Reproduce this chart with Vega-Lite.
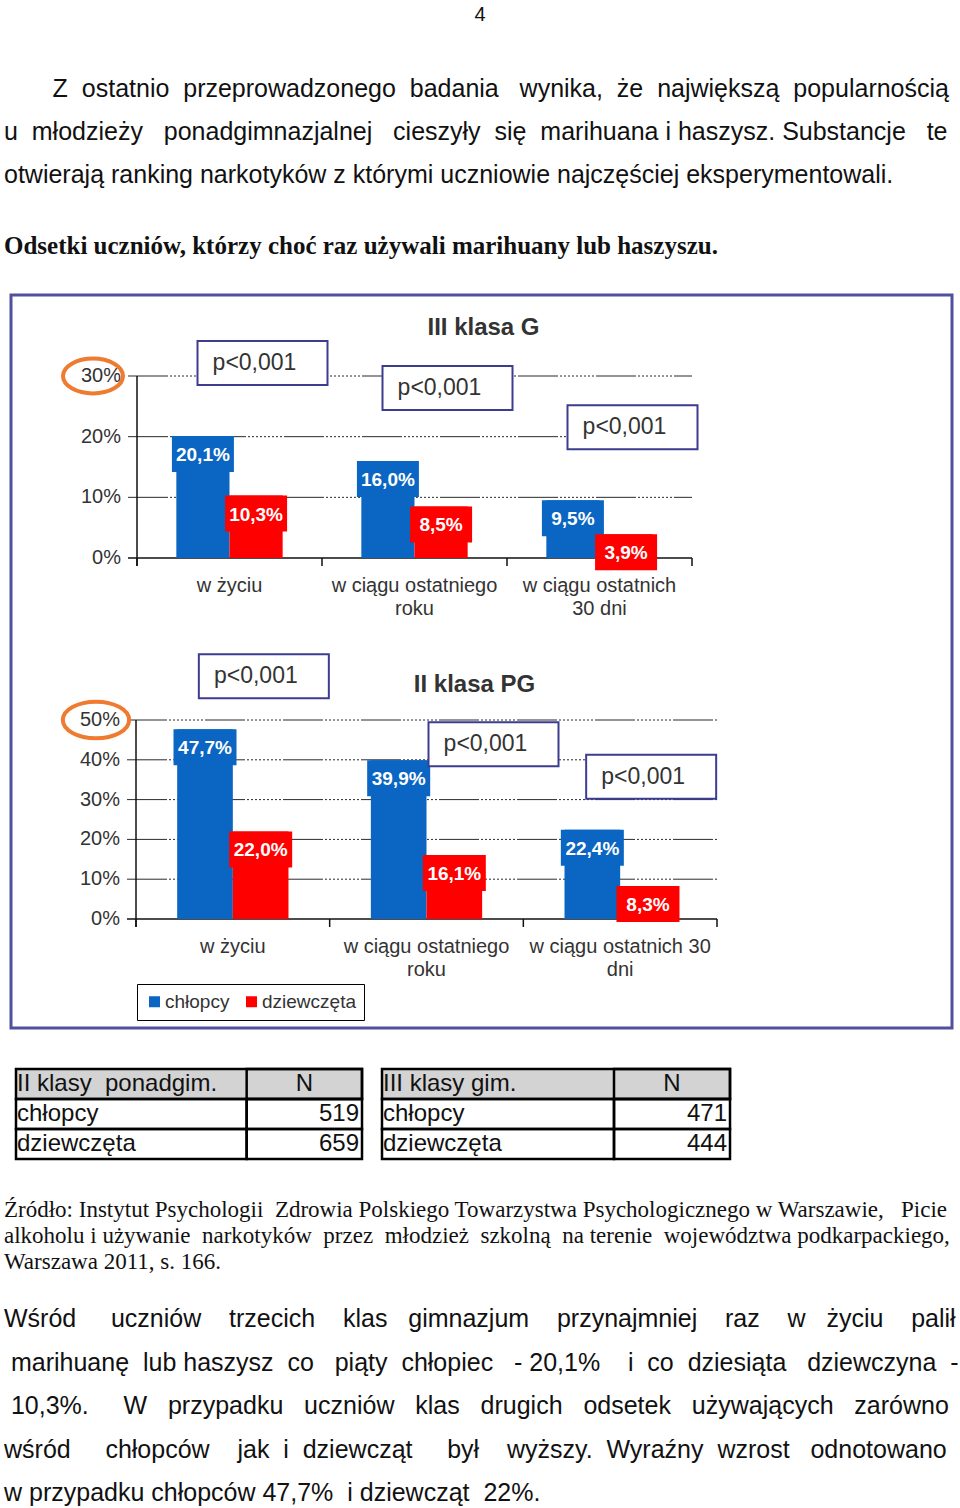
{
  "$schema": "https://vega.github.io/schema/vega-lite/v6.json",
  "width": 960,
  "height": 1508,
  "autosize": {"type": "fit", "contains": "padding"},
  "padding": 0,
  "background": "white",
  "config": {
    "view": {"stroke": null},
    "font": "Liberation Sans",
    "locale": {"number": {"decimal": ",", "thousands": "\u00a0", "grouping": [3], "currency": ["", " zł"]}}
  },
  "datasets": {
    "slupki": [
      {"klasa": "III klasa G", "okres": "w życiu", "plec": "chłopcy", "odsetek": 0.201, "p": "p<0,001"},
      {"klasa": "III klasa G", "okres": "w życiu", "plec": "dziewczęta", "odsetek": 0.103, "p": "p<0,001"},
      {"klasa": "III klasa G", "okres": "w ciągu ostatniego roku", "plec": "chłopcy", "odsetek": 0.16, "p": "p<0,001"},
      {"klasa": "III klasa G", "okres": "w ciągu ostatniego roku", "plec": "dziewczęta", "odsetek": 0.085, "p": "p<0,001"},
      {"klasa": "III klasa G", "okres": "w ciągu ostatnich 30 dni", "plec": "chłopcy", "odsetek": 0.095, "p": "p<0,001"},
      {"klasa": "III klasa G", "okres": "w ciągu ostatnich 30 dni", "plec": "dziewczęta", "odsetek": 0.039, "p": "p<0,001"},
      {"klasa": "II klasa PG", "okres": "w życiu", "plec": "chłopcy", "odsetek": 0.477, "p": "p<0,001"},
      {"klasa": "II klasa PG", "okres": "w życiu", "plec": "dziewczęta", "odsetek": 0.22, "p": "p<0,001"},
      {"klasa": "II klasa PG", "okres": "w ciągu ostatniego roku", "plec": "chłopcy", "odsetek": 0.399, "p": "p<0,001"},
      {"klasa": "II klasa PG", "okres": "w ciągu ostatniego roku", "plec": "dziewczęta", "odsetek": 0.161, "p": "p<0,001"},
      {"klasa": "II klasa PG", "okres": "w ciągu ostatnich 30 dni", "plec": "chłopcy", "odsetek": 0.224, "p": "p<0,001"},
      {"klasa": "II klasa PG", "okres": "w ciągu ostatnich 30 dni", "plec": "dziewczęta", "odsetek": 0.083, "p": "p<0,001"}
    ],
    "kategorie": [
      {"klasa": "III klasa G", "okres": "w życiu", "etykieta": "w życiu"},
      {"klasa": "III klasa G", "okres": "w ciągu ostatniego roku", "etykieta": "w ciągu ostatniego\nroku"},
      {"klasa": "III klasa G", "okres": "w ciągu ostatnich 30 dni", "etykieta": "w ciągu ostatnich\n30 dni"},
      {"klasa": "II klasa PG", "okres": "w życiu", "etykieta": "w życiu"},
      {"klasa": "II klasa PG", "okres": "w ciągu ostatniego roku", "etykieta": "w ciągu ostatniego\nroku"},
      {"klasa": "II klasa PG", "okres": "w ciągu ostatnich 30 dni", "etykieta": "w ciągu ostatnich 30\ndni"}
    ],
    "skala": [
      {"klasa": "III klasa G", "t": 0},
      {"klasa": "III klasa G", "t": 0.1},
      {"klasa": "III klasa G", "t": 0.2},
      {"klasa": "III klasa G", "t": 0.3},
      {"klasa": "II klasa PG", "t": 0},
      {"klasa": "II klasa PG", "t": 0.1},
      {"klasa": "II klasa PG", "t": 0.2},
      {"klasa": "II klasa PG", "t": 0.3},
      {"klasa": "II klasa PG", "t": 0.4},
      {"klasa": "II klasa PG", "t": 0.5}
    ],
    "tabele": [
      {"tabela": "II klasy\u00a0 ponadgim.", "grupa": "chłopcy", "N": 519},
      {"tabela": "II klasy\u00a0 ponadgim.", "grupa": "dziewczęta", "N": 659},
      {"tabela": "III klasy gim.", "grupa": "chłopcy", "N": 471},
      {"tabela": "III klasy gim.", "grupa": "dziewczęta", "N": 444}
    ],
    "tekst": [
      {"blok": "strona", "nr": 1, "tekst": "4"},
      {"blok": "wstep", "nr": 1, "tekst": "\u200b\u00a0\u00a0\u00a0\u00a0\u00a0\u00a0\u00a0Z\u00a0 ostatnio\u00a0 przeprowadzonego\u00a0 badania\u00a0\u00a0 wynika,\u00a0 że\u00a0 największą\u00a0 popularnością"},
      {"blok": "wstep", "nr": 2, "tekst": "u\u00a0 młodzieży\u00a0\u00a0 ponadgimnazjalnej\u00a0\u00a0 cieszyły\u00a0 się\u00a0 marihuana i haszysz. Substancje\u00a0\u00a0 te"},
      {"blok": "wstep", "nr": 3, "tekst": "otwierają ranking narkotyków z którymi uczniowie najczęściej eksperymentowali."},
      {"blok": "naglowek", "nr": 1, "tekst": "Odsetki uczniów, którzy choć raz używali marihuany lub haszyszu."},
      {"blok": "zrodlo", "nr": 1, "tekst": "Źródło: Instytut Psychologii\u00a0 Zdrowia Polskiego Towarzystwa Psychologicznego w Warszawie,\u00a0\u00a0 Picie"},
      {"blok": "zrodlo", "nr": 2, "tekst": "alkoholu i używanie\u00a0 narkotyków\u00a0 przez\u00a0 młodzież\u00a0 szkolną\u00a0 na terenie\u00a0 województwa podkarpackiego,"},
      {"blok": "zrodlo", "nr": 3, "tekst": "Warszawa 2011, s. 166."},
      {"blok": "wniosek", "nr": 1, "tekst": "Wśród\u00a0\u00a0\u00a0\u00a0 uczniów\u00a0\u00a0\u00a0 trzecich\u00a0\u00a0\u00a0 klas\u00a0\u00a0 gimnazjum\u00a0\u00a0\u00a0 przynajmniej\u00a0\u00a0\u00a0 raz\u00a0\u00a0\u00a0 w\u00a0\u00a0 życiu\u00a0\u00a0\u00a0 palił"},
      {"blok": "wniosek", "nr": 2, "tekst": "\u200b\u00a0marihuanę\u00a0 lub haszysz\u00a0 co\u00a0\u00a0 piąty\u00a0 chłopiec\u00a0\u00a0 - 20,1%\u00a0\u00a0\u00a0 i\u00a0 co\u00a0 dziesiąta\u00a0\u00a0 dziewczyna\u00a0 -"},
      {"blok": "wniosek", "nr": 3, "tekst": "\u200b\u00a010,3%.\u00a0\u00a0\u00a0\u00a0 W\u00a0\u00a0 przypadku\u00a0\u00a0 uczniów\u00a0\u00a0 klas\u00a0\u00a0 drugich\u00a0\u00a0 odsetek\u00a0\u00a0 używających\u00a0\u00a0 zarówno"},
      {"blok": "wniosek", "nr": 4, "tekst": "wśród\u00a0\u00a0\u00a0\u00a0 chłopców\u00a0\u00a0\u00a0 jak\u00a0 i\u00a0 dziewcząt\u00a0\u00a0\u00a0\u00a0 był\u00a0\u00a0\u00a0 wyższy.\u00a0 Wyraźny\u00a0 wzrost\u00a0\u00a0 odnotowano"},
      {"blok": "wniosek", "nr": 5, "tekst": "w przypadku chłopców 47,7%\u00a0 i dziewcząt\u00a0 22%."}
    ]
  },
  "resolve": {"scale": {"x": "independent", "y": "independent", "xOffset": "independent"}},
  "layer": [
    {
      "data": {"name": "skala"},
      "transform": [{"filter": "datum.klasa == 'III klasa G' && datum.t == 0"}],
      "mark": {"type": "rect", "fillOpacity": 0, "stroke": "#50509e", "strokeWidth": 3},
      "encoding": {
        "x": {"datum": 0, "type": "quantitative", "axis": null, "scale": {"domain": [0, 1], "range": [11, 952], "zero": false, "nice": false}},
        "x2": {"datum": 1},
        "y": {"datum": 0, "type": "quantitative", "axis": null, "scale": {"domain": [0, 1], "range": [295, 1028], "zero": false, "nice": false}},
        "y2": {"datum": 1}
      }
    },
    {
      "layer": [
        {
          "data": {"name": "skala"},
          "transform": [{"filter": "datum.klasa == 'III klasa G' && datum.t > 0"}],
          "mark": {"type": "rule", "color": "#2a2a2a", "strokeWidth": 1, "strokeDash": [40, 2, 2, 2, 2, 2, 2, 2, 2, 2, 2, 2, 2, 2, 2, 2, 2, 2, 2, 2], "xOffset": -9},
          "encoding": {
            "x": {"datum": "w życiu", "type": "nominal", "bandPosition": 0, "axis": null,
              "scale": {"type": "band", "domain": ["w życiu", "w ciągu ostatniego roku", "w ciągu ostatnich 30 dni"], "range": [137, 692], "paddingInner": 0, "paddingOuter": 0}},
            "x2": {"datum": "w ciągu ostatnich 30 dni", "bandPosition": 1},
            "y": {"field": "t", "type": "quantitative", "axis": null, "scale": {"domain": [0, 0.3], "range": [558, 376], "nice": false, "zero": false}}
          }
        },
        {
          "data": {"name": "skala"},
          "transform": [{"filter": "datum.klasa == 'III klasa G' && datum.t == 0"}],
          "mark": {"type": "rule", "color": "#111111", "strokeWidth": 1.5, "xOffset": -9},
          "encoding": {
            "x": {"datum": "w życiu", "type": "nominal", "bandPosition": 0},
            "x2": {"datum": "w ciągu ostatnich 30 dni", "bandPosition": 1},
            "y": {"field": "t", "type": "quantitative"}
          }
        },
        {
          "data": {"name": "skala"},
          "transform": [{"filter": "datum.klasa == 'III klasa G' && datum.t == 0.3"}],
          "mark": {"type": "rule", "color": "#111111", "strokeWidth": 1.5, "y2Offset": 8},
          "encoding": {
            "x": {"datum": "w życiu", "type": "nominal", "bandPosition": 0},
            "y": {"field": "t", "type": "quantitative"},
            "y2": {"datum": 0}
          }
        },
        {
          "data": {"name": "kategorie"},
          "transform": [{"filter": "datum.klasa == 'III klasa G'"}],
          "mark": {"type": "rule", "color": "#111111", "strokeWidth": 1.5, "y2Offset": 8},
          "encoding": {
            "x": {"field": "okres", "type": "nominal", "bandPosition": 0},
            "y": {"datum": 0, "type": "quantitative"},
            "y2": {"datum": 0}
          }
        },
        {
          "data": {"name": "kategorie"},
          "transform": [{"filter": "datum.klasa == 'III klasa G' && datum.okres == 'w ciągu ostatnich 30 dni'"}],
          "mark": {"type": "rule", "color": "#111111", "strokeWidth": 1.5, "y2Offset": 8},
          "encoding": {
            "x": {"field": "okres", "type": "nominal", "bandPosition": 1},
            "y": {"datum": 0, "type": "quantitative"},
            "y2": {"datum": 0}
          }
        },
        {
          "data": {"name": "skala"},
          "transform": [{"filter": "datum.klasa == 'III klasa G'"}],
          "mark": {"type": "text", "align": "right", "baseline": "middle", "fontSize": 20, "color": "#333333", "xOffset": -16},
          "encoding": {
            "x": {"datum": "w życiu", "type": "nominal", "bandPosition": 0},
            "y": {"field": "t", "type": "quantitative"},
            "text": {"field": "t", "type": "quantitative", "format": ".0%"}
          }
        },
        {
          "data": {"name": "skala"},
          "transform": [{"filter": "datum.klasa == 'III klasa G' && datum.t == 0.3"}],
          "mark": {"type": "point", "shape": "M -1 0 A 1 0.58 0 1 0 1 0 A 1 0.58 0 1 0 -1 0 Z", "size": 3600, "filled": false, "color": "#ee7b30", "strokeWidth": 4, "opacity": 1, "xOffset": -44},
          "encoding": {
            "x": {"datum": "w życiu", "type": "nominal", "bandPosition": 0},
            "y": {"field": "t", "type": "quantitative"}
          }
        },
        {
          "data": {"name": "slupki"},
          "transform": [{"filter": "datum.klasa == 'III klasa G'"}],
          "mark": {"type": "bar"},
          "encoding": {
            "x": {"field": "okres", "type": "nominal"},
            "xOffset": {"field": "plec", "type": "nominal", "scale": {"domain": ["chłopcy", "dziewczęta"], "paddingInner": 0, "paddingOuter": 0.74}},
            "y": {"field": "odsetek", "type": "quantitative"},
            "color": {"field": "plec", "type": "nominal",
              "scale": {"domain": ["chłopcy", "dziewczęta"], "range": ["#0a66c2", "#ff0000"]},
              "legend": {"orient": "none", "legendX": 137, "legendY": 984, "direction": "horizontal", "title": null,
                "fillColor": "white", "strokeColor": "black", "padding": 8, "symbolType": "square", "symbolSize": 121,
                "symbolStrokeWidth": 0, "symbolOpacity": 1, "labelFont": "Liberation Sans", "labelFontSize": 19, "labelColor": "#333333",
                "columnPadding": 12, "labelOffset": 1}}
          }
        },
        {
          "data": {"name": "slupki"},
          "transform": [{"filter": "datum.klasa == 'III klasa G'"}],
          "mark": {"type": "bar", "width": 62, "y2Offset": 36},
          "encoding": {
            "x": {"field": "okres", "type": "nominal"},
            "xOffset": {"field": "plec", "type": "nominal"},
            "y": {"field": "odsetek", "type": "quantitative"},
            "y2": {"field": "odsetek"},
            "color": {"field": "plec", "type": "nominal"}
          }
        },
        {
          "data": {"name": "slupki"},
          "transform": [{"filter": "datum.klasa == 'III klasa G'"}],
          "mark": {"type": "text", "color": "white", "fontWeight": "bold", "fontSize": 19, "baseline": "middle", "yOffset": 19},
          "encoding": {
            "x": {"field": "okres", "type": "nominal"},
            "xOffset": {"field": "plec", "type": "nominal"},
            "y": {"field": "odsetek", "type": "quantitative"},
            "text": {"field": "odsetek", "type": "quantitative", "format": ".1%"}
          }
        },
        {
          "data": {"name": "slupki"},
          "transform": [{"filter": "datum.klasa == 'III klasa G' && datum.plec == 'chłopcy'"}],
          "mark": {"type": "bar", "width": 130, "xOffset": 33, "yOffset": -95, "y2Offset": -51, "fill": "white", "stroke": "#3d3d8f", "strokeWidth": 2},
          "encoding": {
            "x": {"field": "okres", "type": "nominal"},
            "y": {"field": "odsetek", "type": "quantitative"},
            "y2": {"field": "odsetek"}
          }
        },
        {
          "data": {"name": "slupki"},
          "transform": [{"filter": "datum.klasa == 'III klasa G' && datum.plec == 'chłopcy'"}],
          "mark": {"type": "text", "fontSize": 23, "color": "#333333", "baseline": "middle", "xOffset": 25, "yOffset": -73},
          "encoding": {
            "x": {"field": "okres", "type": "nominal"},
            "y": {"field": "odsetek", "type": "quantitative"},
            "text": {"field": "p"}
          }
        },
        {
          "data": {"name": "slupki"},
          "transform": [{"filter": "datum.klasa == 'III klasa G' && datum.plec == 'chłopcy' && datum.okres == 'w ciągu ostatniego roku'"}],
          "mark": {"type": "text", "fontSize": 24, "fontWeight": "bold", "color": "#333333", "baseline": "middle", "xOffset": 69, "yOffset": -48},
          "encoding": {
            "x": {"field": "okres", "type": "nominal"},
            "y": {"datum": 0.3, "type": "quantitative"},
            "text": {"field": "klasa"}
          }
        },
        {
          "data": {"name": "kategorie"},
          "transform": [{"filter": "datum.klasa == 'III klasa G'"}],
          "mark": {"type": "text", "fontSize": 20, "color": "#333333", "baseline": "top", "lineBreak": "\n", "lineHeight": 23, "yOffset": 18},
          "encoding": {
            "x": {"field": "okres", "type": "nominal"},
            "y": {"datum": 0, "type": "quantitative"},
            "text": {"field": "etykieta"}
          }
        }
      ]
    },
    {
      "layer": [
        {
          "data": {"name": "skala"},
          "transform": [{"filter": "datum.klasa == 'II klasa PG' && datum.t > 0"}],
          "mark": {"type": "rule", "color": "#2a2a2a", "strokeWidth": 1, "strokeDash": [40, 2, 2, 2, 2, 2, 2, 2, 2, 2, 2, 2, 2, 2, 2, 2, 2, 2, 2, 2], "xOffset": -9},
          "encoding": {
            "x": {"datum": "w życiu", "type": "nominal", "bandPosition": 0, "axis": null,
              "scale": {"type": "band", "domain": ["w życiu", "w ciągu ostatniego roku", "w ciągu ostatnich 30 dni"], "range": [136, 717], "paddingInner": 0, "paddingOuter": 0}},
            "x2": {"datum": "w ciągu ostatnich 30 dni", "bandPosition": 1},
            "y": {"field": "t", "type": "quantitative", "axis": null, "scale": {"domain": [0, 0.5], "range": [919, 720], "nice": false, "zero": false}}
          }
        },
        {
          "data": {"name": "skala"},
          "transform": [{"filter": "datum.klasa == 'II klasa PG' && datum.t == 0"}],
          "mark": {"type": "rule", "color": "#111111", "strokeWidth": 1.5, "xOffset": -9},
          "encoding": {
            "x": {"datum": "w życiu", "type": "nominal", "bandPosition": 0},
            "x2": {"datum": "w ciągu ostatnich 30 dni", "bandPosition": 1},
            "y": {"field": "t", "type": "quantitative"}
          }
        },
        {
          "data": {"name": "skala"},
          "transform": [{"filter": "datum.klasa == 'II klasa PG' && datum.t == 0.5"}],
          "mark": {"type": "rule", "color": "#111111", "strokeWidth": 1.5, "y2Offset": 8},
          "encoding": {
            "x": {"datum": "w życiu", "type": "nominal", "bandPosition": 0},
            "y": {"field": "t", "type": "quantitative"},
            "y2": {"datum": 0}
          }
        },
        {
          "data": {"name": "kategorie"},
          "transform": [{"filter": "datum.klasa == 'II klasa PG'"}],
          "mark": {"type": "rule", "color": "#111111", "strokeWidth": 1.5, "y2Offset": 8},
          "encoding": {
            "x": {"field": "okres", "type": "nominal", "bandPosition": 0},
            "y": {"datum": 0, "type": "quantitative"},
            "y2": {"datum": 0}
          }
        },
        {
          "data": {"name": "kategorie"},
          "transform": [{"filter": "datum.klasa == 'II klasa PG' && datum.okres == 'w ciągu ostatnich 30 dni'"}],
          "mark": {"type": "rule", "color": "#111111", "strokeWidth": 1.5, "y2Offset": 8},
          "encoding": {
            "x": {"field": "okres", "type": "nominal", "bandPosition": 1},
            "y": {"datum": 0, "type": "quantitative"},
            "y2": {"datum": 0}
          }
        },
        {
          "data": {"name": "skala"},
          "transform": [{"filter": "datum.klasa == 'II klasa PG'"}],
          "mark": {"type": "text", "align": "right", "baseline": "middle", "fontSize": 20, "color": "#333333", "xOffset": -16},
          "encoding": {
            "x": {"datum": "w życiu", "type": "nominal", "bandPosition": 0},
            "y": {"field": "t", "type": "quantitative"},
            "text": {"field": "t", "type": "quantitative", "format": ".0%"}
          }
        },
        {
          "data": {"name": "skala"},
          "transform": [{"filter": "datum.klasa == 'II klasa PG' && datum.t == 0.5"}],
          "mark": {"type": "point", "shape": "M -1 0 A 1 0.55 0 1 0 1 0 A 1 0.55 0 1 0 -1 0 Z", "size": 4400, "filled": false, "color": "#ee7b30", "strokeWidth": 4, "opacity": 1, "xOffset": -40},
          "encoding": {
            "x": {"datum": "w życiu", "type": "nominal", "bandPosition": 0},
            "y": {"field": "t", "type": "quantitative"}
          }
        },
        {
          "data": {"name": "slupki"},
          "transform": [{"filter": "datum.klasa == 'II klasa PG'"}],
          "mark": {"type": "bar"},
          "encoding": {
            "x": {"field": "okres", "type": "nominal"},
            "xOffset": {"field": "plec", "type": "nominal", "scale": {"domain": ["chłopcy", "dziewczęta"], "paddingInner": 0, "paddingOuter": 0.74}},
            "y": {"field": "odsetek", "type": "quantitative"},
            "color": {"field": "plec", "type": "nominal"}
          }
        },
        {
          "data": {"name": "slupki"},
          "transform": [{"filter": "datum.klasa == 'II klasa PG'"}],
          "mark": {"type": "bar", "width": 63, "y2Offset": 36},
          "encoding": {
            "x": {"field": "okres", "type": "nominal"},
            "xOffset": {"field": "plec", "type": "nominal"},
            "y": {"field": "odsetek", "type": "quantitative"},
            "y2": {"field": "odsetek"},
            "color": {"field": "plec", "type": "nominal"}
          }
        },
        {
          "data": {"name": "slupki"},
          "transform": [{"filter": "datum.klasa == 'II klasa PG'"}],
          "mark": {"type": "text", "color": "white", "fontWeight": "bold", "fontSize": 19, "baseline": "middle", "yOffset": 19},
          "encoding": {
            "x": {"field": "okres", "type": "nominal"},
            "xOffset": {"field": "plec", "type": "nominal"},
            "y": {"field": "odsetek", "type": "quantitative"},
            "text": {"field": "odsetek", "type": "quantitative", "format": ".1%"}
          }
        },
        {
          "data": {"name": "slupki"},
          "transform": [{"filter": "datum.klasa == 'II klasa PG' && datum.plec == 'chłopcy' && datum.okres != 'w ciągu ostatniego roku'"}],
          "mark": {"type": "bar", "width": 130, "xOffset": 31, "yOffset": -75, "y2Offset": -31, "fill": "white", "stroke": "#3d3d8f", "strokeWidth": 2},
          "encoding": {
            "x": {"field": "okres", "type": "nominal"},
            "y": {"field": "odsetek", "type": "quantitative"},
            "y2": {"field": "odsetek"}
          }
        },
        {
          "data": {"name": "slupki"},
          "transform": [{"filter": "datum.klasa == 'II klasa PG' && datum.plec == 'chłopcy' && datum.okres != 'w ciągu ostatniego roku'"}],
          "mark": {"type": "text", "fontSize": 23, "color": "#333333", "baseline": "middle", "xOffset": 23, "yOffset": -53},
          "encoding": {
            "x": {"field": "okres", "type": "nominal"},
            "y": {"field": "odsetek", "type": "quantitative"},
            "text": {"field": "p"}
          }
        },
        {
          "data": {"name": "slupki"},
          "transform": [{"filter": "datum.klasa == 'II klasa PG' && datum.plec == 'chłopcy' && datum.okres == 'w ciągu ostatniego roku'"}],
          "mark": {"type": "bar", "width": 130, "xOffset": 67, "yOffset": -38, "y2Offset": 6, "fill": "white", "stroke": "#3d3d8f", "strokeWidth": 2},
          "encoding": {
            "x": {"field": "okres", "type": "nominal"},
            "y": {"field": "odsetek", "type": "quantitative"},
            "y2": {"field": "odsetek"}
          }
        },
        {
          "data": {"name": "slupki"},
          "transform": [{"filter": "datum.klasa == 'II klasa PG' && datum.plec == 'chłopcy' && datum.okres == 'w ciągu ostatniego roku'"}],
          "mark": {"type": "text", "fontSize": 23, "color": "#333333", "baseline": "middle", "xOffset": 59, "yOffset": -16},
          "encoding": {
            "x": {"field": "okres", "type": "nominal"},
            "y": {"field": "odsetek", "type": "quantitative"},
            "text": {"field": "p"}
          }
        },
        {
          "data": {"name": "slupki"},
          "transform": [{"filter": "datum.klasa == 'II klasa PG' && datum.plec == 'chłopcy' && datum.okres == 'w ciągu ostatniego roku'"}],
          "mark": {"type": "text", "fontSize": 24, "fontWeight": "bold", "color": "#333333", "baseline": "middle", "xOffset": 48, "yOffset": -35},
          "encoding": {
            "x": {"field": "okres", "type": "nominal"},
            "y": {"datum": 0.5, "type": "quantitative"},
            "text": {"field": "klasa"}
          }
        },
        {
          "data": {"name": "kategorie"},
          "transform": [{"filter": "datum.klasa == 'II klasa PG'"}],
          "mark": {"type": "text", "fontSize": 20, "color": "#333333", "baseline": "top", "lineBreak": "\n", "lineHeight": 23, "yOffset": 18},
          "encoding": {
            "x": {"field": "okres", "type": "nominal"},
            "y": {"datum": 0, "type": "quantitative"},
            "text": {"field": "etykieta"}
          }
        }
      ]
    },
    {
      "data": {"name": "tabele"},
      "transform": [{"filter": "datum.tabela != 'III klasy gim.'"}],
      "layer": [
        {
          "transform": [{"filter": "datum.grupa == 'chłopcy'"}],
          "mark": {"type": "rect", "fill": "#d3d3d3", "stroke": "#000000", "strokeWidth": 2.5},
          "encoding": {
            "x": {"datum": 0, "type": "quantitative", "axis": null, "scale": {"domain": [0, 3], "range": [16, 362], "zero": false, "nice": false}},
            "x2": {"datum": 3},
            "y": {"datum": "nagłówek", "type": "nominal", "axis": null, "scale": {"type": "band", "domain": ["nagłówek", "chłopcy", "dziewczęta"], "range": [1069, 1159], "paddingInner": 0, "paddingOuter": 0}}
          }
        },
        {
          "transform": [{"filter": "datum.grupa == 'chłopcy'"}],
          "mark": {"type": "rect", "fillOpacity": 0, "stroke": "#000000", "strokeWidth": 2.5},
          "encoding": {"x": {"datum": 2, "type": "quantitative"}, "x2": {"datum": 3}, "y": {"datum": "nagłówek", "type": "nominal"}}
        },
        {
          "mark": {"type": "rect", "fillOpacity": 0, "stroke": "#000000", "strokeWidth": 2.5},
          "encoding": {"x": {"datum": 0, "type": "quantitative"}, "x2": {"datum": 2}, "y": {"field": "grupa", "type": "nominal"}}
        },
        {
          "mark": {"type": "rect", "fillOpacity": 0, "stroke": "#000000", "strokeWidth": 2.5},
          "encoding": {"x": {"datum": 2, "type": "quantitative"}, "x2": {"datum": 3}, "y": {"field": "grupa", "type": "nominal"}}
        },
        {
          "mark": {"type": "text", "align": "left", "baseline": "middle", "fontSize": 24, "color": "#111111", "xOffset": 1},
          "encoding": {"x": {"datum": 0, "type": "quantitative"}, "y": {"field": "grupa", "type": "nominal"}, "text": {"field": "grupa"}}
        },
        {
          "mark": {"type": "text", "align": "right", "baseline": "middle", "fontSize": 24, "color": "#111111", "xOffset": -3},
          "encoding": {"x": {"datum": 3, "type": "quantitative"}, "y": {"field": "grupa", "type": "nominal"}, "text": {"field": "N", "type": "quantitative", "format": "d"}}
        },
        {
          "transform": [{"filter": "datum.grupa == 'chłopcy'"}],
          "mark": {"type": "text", "align": "left", "baseline": "middle", "fontSize": 24, "color": "#111111", "xOffset": 1},
          "encoding": {"x": {"datum": 0, "type": "quantitative"}, "y": {"datum": "nagłówek", "type": "nominal"}, "text": {"field": "tabela"}}
        },
        {
          "transform": [{"filter": "datum.grupa == 'chłopcy'"}],
          "mark": {"type": "text", "align": "center", "baseline": "middle", "fontSize": 24, "color": "#111111"},
          "encoding": {"x": {"datum": 2.5, "type": "quantitative"}, "y": {"datum": "nagłówek", "type": "nominal"}, "text": {"value": "N"}}
        }
      ]
    },
    {
      "data": {"name": "tabele"},
      "transform": [{"filter": "datum.tabela == 'III klasy gim.'"}],
      "layer": [
        {
          "transform": [{"filter": "datum.grupa == 'chłopcy'"}],
          "mark": {"type": "rect", "fill": "#d3d3d3", "stroke": "#000000", "strokeWidth": 2.5},
          "encoding": {
            "x": {"datum": 0, "type": "quantitative", "axis": null, "scale": {"domain": [0, 3], "range": [382, 730], "zero": false, "nice": false}},
            "x2": {"datum": 3},
            "y": {"datum": "nagłówek", "type": "nominal", "axis": null, "scale": {"type": "band", "domain": ["nagłówek", "chłopcy", "dziewczęta"], "range": [1069, 1159], "paddingInner": 0, "paddingOuter": 0}}
          }
        },
        {
          "transform": [{"filter": "datum.grupa == 'chłopcy'"}],
          "mark": {"type": "rect", "fillOpacity": 0, "stroke": "#000000", "strokeWidth": 2.5},
          "encoding": {"x": {"datum": 2, "type": "quantitative"}, "x2": {"datum": 3}, "y": {"datum": "nagłówek", "type": "nominal"}}
        },
        {
          "mark": {"type": "rect", "fillOpacity": 0, "stroke": "#000000", "strokeWidth": 2.5},
          "encoding": {"x": {"datum": 0, "type": "quantitative"}, "x2": {"datum": 2}, "y": {"field": "grupa", "type": "nominal"}}
        },
        {
          "mark": {"type": "rect", "fillOpacity": 0, "stroke": "#000000", "strokeWidth": 2.5},
          "encoding": {"x": {"datum": 2, "type": "quantitative"}, "x2": {"datum": 3}, "y": {"field": "grupa", "type": "nominal"}}
        },
        {
          "mark": {"type": "text", "align": "left", "baseline": "middle", "fontSize": 24, "color": "#111111", "xOffset": 1},
          "encoding": {"x": {"datum": 0, "type": "quantitative"}, "y": {"field": "grupa", "type": "nominal"}, "text": {"field": "grupa"}}
        },
        {
          "mark": {"type": "text", "align": "right", "baseline": "middle", "fontSize": 24, "color": "#111111", "xOffset": -3},
          "encoding": {"x": {"datum": 3, "type": "quantitative"}, "y": {"field": "grupa", "type": "nominal"}, "text": {"field": "N", "type": "quantitative", "format": "d"}}
        },
        {
          "transform": [{"filter": "datum.grupa == 'chłopcy'"}],
          "mark": {"type": "text", "align": "left", "baseline": "middle", "fontSize": 24, "color": "#111111", "xOffset": 1},
          "encoding": {"x": {"datum": 0, "type": "quantitative"}, "y": {"datum": "nagłówek", "type": "nominal"}, "text": {"field": "tabela"}}
        },
        {
          "transform": [{"filter": "datum.grupa == 'chłopcy'"}],
          "mark": {"type": "text", "align": "center", "baseline": "middle", "fontSize": 24, "color": "#111111"},
          "encoding": {"x": {"datum": 2.5, "type": "quantitative"}, "y": {"datum": "nagłówek", "type": "nominal"}, "text": {"value": "N"}}
        }
      ]
    },
    {
      "data": {"name": "tekst"},
      "resolve": {"scale": {"y": "independent"}},
      "layer": [
        {
          "transform": [{"filter": "datum.blok == 'strona'"}],
          "mark": {"type": "text", "align": "center", "baseline": "alphabetic", "fontSize": 20, "color": "#111111"},
          "encoding": {
            "x": {"datum": 0.5, "type": "quantitative", "axis": null, "scale": {"domain": [0, 1], "range": [4, 956], "zero": false, "nice": false}},
            "y": {"field": "nr", "type": "quantitative", "axis": null, "scale": {"domain": [1, 2], "range": [21, 64], "zero": false, "nice": false}},
            "text": {"field": "tekst"}
          }
        },
        {
          "transform": [{"filter": "datum.blok == 'wstep'"}],
          "mark": {"type": "text", "align": "left", "baseline": "alphabetic", "fontSize": 25, "color": "#111111"},
          "encoding": {
            "x": {"datum": 0, "type": "quantitative"},
            "y": {"field": "nr", "type": "quantitative", "axis": null, "scale": {"domain": [1, 3], "range": [97, 183], "zero": false, "nice": false}},
            "text": {"field": "tekst"}
          }
        },
        {
          "transform": [{"filter": "datum.blok == 'naglowek'"}],
          "mark": {"type": "text", "align": "left", "baseline": "alphabetic", "fontSize": 25, "font": "Liberation Serif", "fontWeight": "bold", "color": "#111111"},
          "encoding": {
            "x": {"datum": 0, "type": "quantitative"},
            "y": {"field": "nr", "type": "quantitative", "axis": null, "scale": {"domain": [1, 2], "range": [254, 297], "zero": false, "nice": false}},
            "text": {"field": "tekst"}
          }
        },
        {
          "transform": [{"filter": "datum.blok == 'zrodlo'"}],
          "mark": {"type": "text", "align": "left", "baseline": "alphabetic", "fontSize": 23, "font": "Liberation Serif", "color": "#111111"},
          "encoding": {
            "x": {"datum": 0, "type": "quantitative"},
            "y": {"field": "nr", "type": "quantitative", "axis": null, "scale": {"domain": [1, 3], "range": [1217, 1269], "zero": false, "nice": false}},
            "text": {"field": "tekst"}
          }
        },
        {
          "transform": [{"filter": "datum.blok == 'wniosek'"}],
          "mark": {"type": "text", "align": "left", "baseline": "alphabetic", "fontSize": 25, "color": "#111111"},
          "encoding": {
            "x": {"datum": 0, "type": "quantitative"},
            "y": {"field": "nr", "type": "quantitative", "axis": null, "scale": {"domain": [1, 5], "range": [1327, 1501], "zero": false, "nice": false}},
            "text": {"field": "tekst"}
          }
        }
      ]
    }
  ]
}
